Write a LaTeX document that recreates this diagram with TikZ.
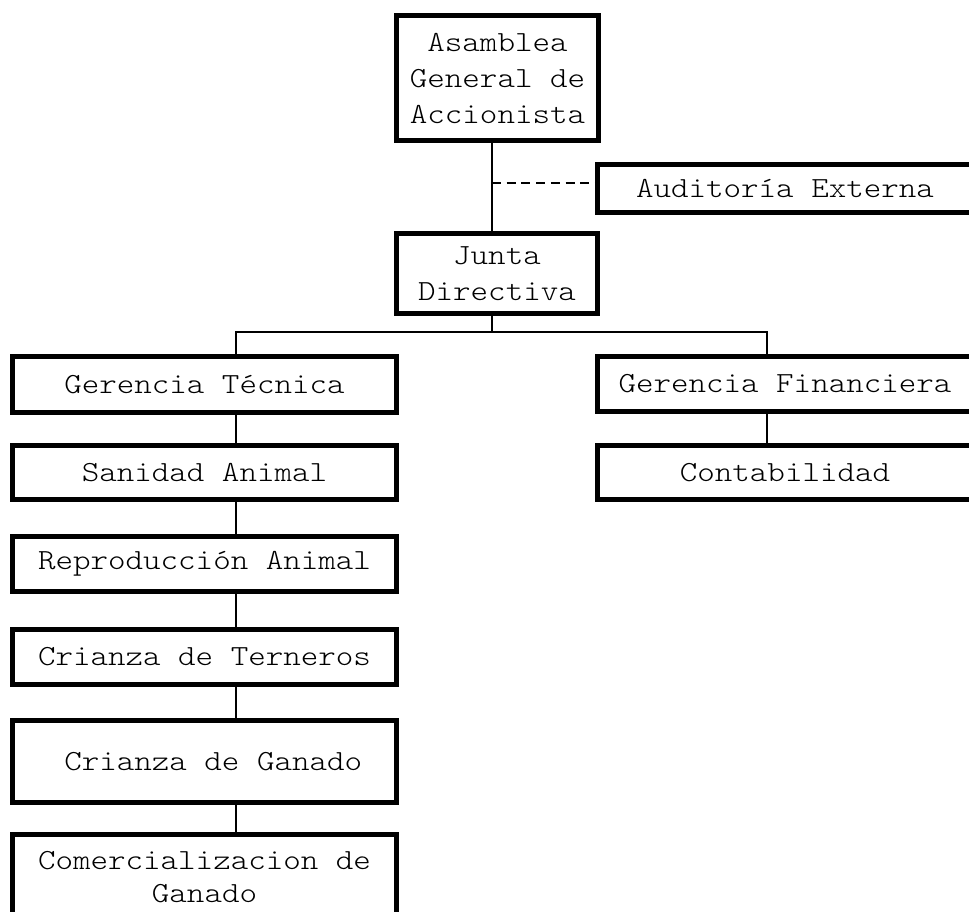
\documentclass[tikz,border=0pt]{standalone}
\usepackage{fontspec}
\newfontfamily\cour[FakeStretch=1.143]{lmmonolt10-regular.otf}
\begin{document}
\begin{tikzpicture}[x=1pt,y=-1pt,
  box/.style={draw=black,line width=5pt,fill=white,inner sep=0pt,align=center,
    font=\cour\fontsize{29.2}{36}\selectfont},
  conn/.style={line width=1.5pt},
  dconn/.style={line width=1.5pt,dash pattern=on 9pt off 5.7pt}]
\clip (0,0) rectangle (969,912);
\fill[white] (0,0) rectangle (969,912);
\node[box,minimum width=202pt,minimum height=125pt] (asam) at (497.5,78) {Asamblea\\General de\\Accionista};
\node[box,minimum width=375pt,minimum height=48pt] (aud) at (785,188.5) {Auditoría Externa};
\node[box,minimum width=201pt,minimum height=80pt] (junta) at (497,273.5) {Junta\\Directiva};
\node[box,minimum width=384pt,minimum height=56pt] (gtec) at (204.5,384.5) {Gerencia Técnica};
\node[box,minimum width=384pt,minimum height=54pt] (san) at (204.5,472.5) {Sanidad Animal};
\node[box,minimum width=384pt,minimum height=55pt] (rep) at (204.5,564) {Reproducción Animal};
\node[box,minimum width=384pt,minimum height=55pt] (cter) at (204.5,657) {Crianza de Terneros};
\node[box,minimum width=384pt,minimum height=82pt] (cgan) at (204.5,761.5) {\ Crianza de Ganado};
\node[box,minimum width=384pt,minimum height=86pt,font=\cour\fontsize{29.2}{33}\selectfont] (com) at (204.5,877) {Comercializacion de\\Ganado};
\node[box,minimum width=375pt,minimum height=55pt] (gfin) at (785,384) {Gerencia Financiera};
\node[box,minimum width=375pt,minimum height=54pt] (cont) at (785,472.5) {Contabilidad};
\coordinate (spine) at (492,0);
\coordinate (lspine) at (236,0);
\coordinate (rspine) at (767,0);
\coordinate (dash) at (492,183);
\coordinate (branch) at (0,332);
\draw[conn] (asam.south -| spine) -- (junta.north -| spine);
\draw[dconn] (dash) -- (dash -| aud.west);
\draw[conn] (junta.south -| spine) -- (branch -| spine);
\draw[conn] (gtec.north -| lspine) -- (branch -| lspine) -- (branch -| rspine) -- (gfin.north -| rspine);
\draw[conn] (gtec.south -| lspine) -- (san.north -| lspine);
\draw[conn] (san.south -| lspine) -- (rep.north -| lspine);
\draw[conn] (rep.south -| lspine) -- (cter.north -| lspine);
\draw[conn] (cter.south -| lspine) -- (cgan.north -| lspine);
\draw[conn] (cgan.south -| lspine) -- (com.north -| lspine);
\draw[conn] (gfin.south -| rspine) -- (cont.north -| rspine);
\end{tikzpicture}
\end{document}
